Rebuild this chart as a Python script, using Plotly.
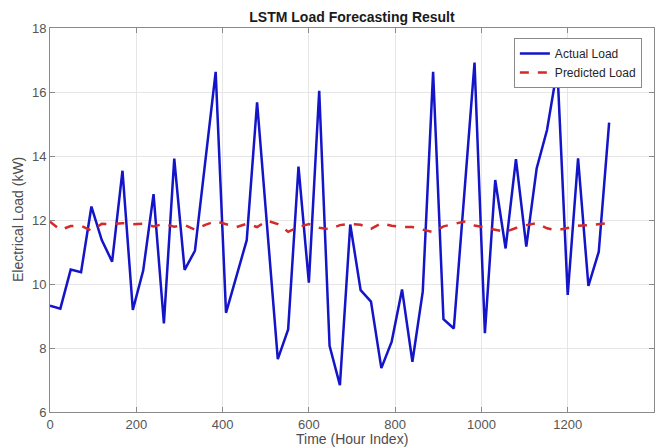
import plotly.graph_objects as go

hours = [24 * k for k in range(55)]

actual_load = [
    9.32, 9.23, 10.45, 10.37, 12.42, 11.37, 10.70, 13.54, 9.19, 10.42,
    12.81, 8.77, 13.92, 10.44, 11.04, 13.80, 16.63, 9.10, 10.20, 11.37,
    15.68, 11.67, 7.65, 8.58, 13.67, 10.04, 16.04, 8.07, 6.84, 11.86,
    9.81, 9.45, 7.37, 8.20, 9.83, 7.57, 9.76, 16.63, 8.90, 8.61,
    12.80, 16.92, 8.46, 13.25, 11.11, 13.90, 11.17, 13.61, 14.81, 16.74,
    9.66, 13.93, 9.94, 11.01, 15.04,
]

predicted_load = [
    11.95, 11.69, 11.81, 11.82, 11.67, 11.88, 11.87, 11.90, 11.87, 11.88,
    11.80, 11.88, 11.79, 11.84, 11.70, 11.85, 11.96, 11.88, 11.78, 11.88,
    11.78, 11.98, 11.87, 11.63, 11.78, 11.87, 11.76, 11.71, 11.84, 11.88,
    11.85, 11.72, 11.90, 11.82, 11.78, 11.78, 11.70, 11.62, 11.80, 11.88,
    11.95, 11.83, 11.76, 11.70, 11.63, 11.75, 11.84, 11.90, 11.74, 11.68,
    11.74, 11.82, 11.84, 11.88, 11.90,
]

x_ticks = [0, 200, 400, 600, 800, 1000, 1200, 1400]
y_ticks = [6, 8, 10, 12, 14, 16, 18]

fig = go.Figure()
fig.add_trace(go.Scatter(
    x=hours, y=actual_load, mode="lines", name="Actual Load",
    line=dict(color="#1414c8", width=2.5),
))
fig.add_trace(go.Scatter(
    x=hours, y=predicted_load, mode="lines", name="Predicted Load",
    line=dict(color="#d42a2a", width=2.5, dash="dash"),
))

axis_common = dict(
    showline=True, linecolor="#8a8a8a", linewidth=1, mirror="ticks",
    ticks="inside", ticklen=5, tickcolor="#8a8a8a",
    showgrid=True, gridcolor="#e6e6e6", gridwidth=1, zeroline=False,
    tickfont=dict(family="Arial, Liberation Sans, sans-serif", size=13, color="#555555"),
)

fig.update_layout(
    width=668, height=448,
    margin=dict(l=50, r=14, t=28, b=36),
    paper_bgcolor="white", plot_bgcolor="white",
    title=dict(
        text="<b>LSTM Load Forecasting Result</b>",
        x=(50 + 654) / 2 / 668, xanchor="center", y=1 - 17 / 448, yanchor="middle",
        font=dict(family="Arial, Liberation Sans, sans-serif", size=14, color="#1a1a1a"),
    ),
    xaxis=dict(range=[0, 1400], tickvals=x_ticks, **axis_common),
    yaxis=dict(range=[6, 18], tickvals=y_ticks, **axis_common),
    legend=dict(
        x=0.768, y=0.974, xanchor="left", yanchor="top",
        bgcolor="white", bordercolor="#8a8a8a", borderwidth=1,
        font=dict(family="Arial, Liberation Sans, sans-serif", size=12, color="#262626"),
        tracegroupgap=0,
    ),
    showlegend=True,
    annotations=[
        dict(text="Time (Hour Index)", xref="paper", yref="paper",
             x=0.5, y=-36 / 384, xanchor="center", yanchor="bottom",
             showarrow=False, borderpad=0,
             font=dict(family="Arial, Liberation Sans, sans-serif", size=14, color="#4d4d4d")),
        dict(text="Electrical Load (kW)", xref="paper", yref="paper",
             x=-32 / 604, y=0.5, xanchor="center", yanchor="middle", textangle=-90,
             showarrow=False,
             font=dict(family="Arial, Liberation Sans, sans-serif", size=14, color="#4d4d4d")),
    ],
)

fig.write_html("out.html")
